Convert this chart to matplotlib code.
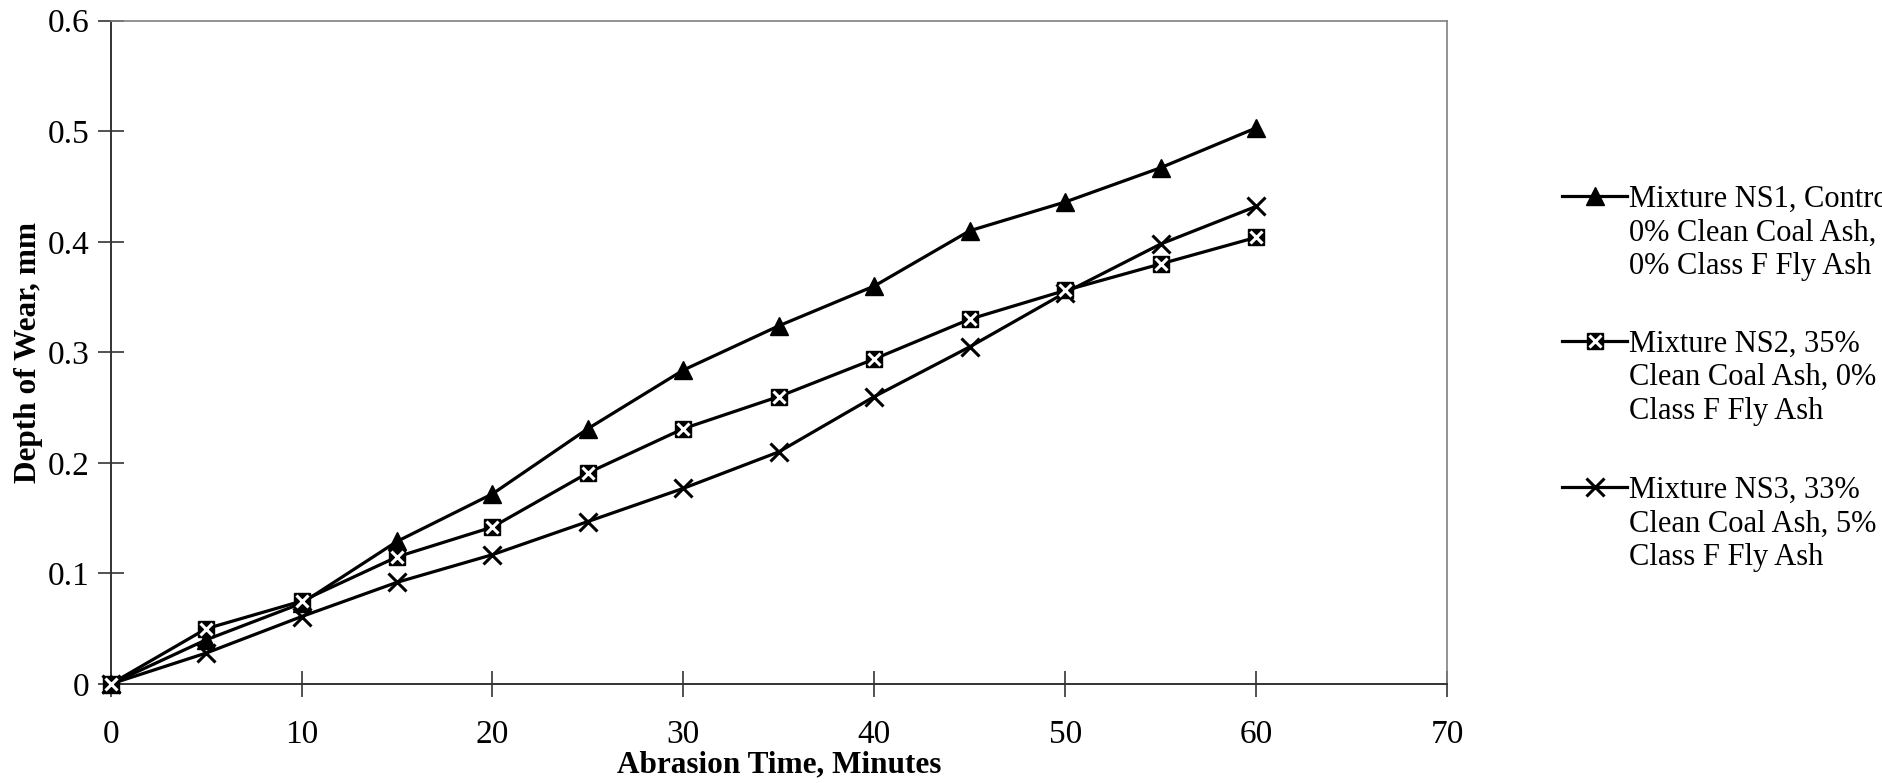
import matplotlib
matplotlib.use("Agg")
import matplotlib.pyplot as plt
from matplotlib.lines import Line2D

# Abrasion test readings, depth of wear in mm every 5 minutes
minutes = [0, 5, 10, 15, 20, 25, 30, 35, 40, 45, 50, 55, 60]
ns1_wear = [0.0, 0.040, 0.073, 0.129, 0.172, 0.231, 0.284, 0.324, 0.360, 0.410, 0.436, 0.467, 0.503]
ns2_wear = [0.0, 0.050, 0.075, 0.115, 0.142, 0.191, 0.231, 0.260, 0.294, 0.330, 0.356, 0.380, 0.404]
ns3_wear = [0.0, 0.028, 0.061, 0.092, 0.117, 0.147, 0.177, 0.210, 0.260, 0.305, 0.354, 0.398, 0.432]

labels = [
    "Mixture NS1, Control,\n0% Clean Coal Ash,\n0% Class F Fly Ash",
    "Mixture NS2, 35%\nClean Coal Ash, 0%\nClass F Fly Ash",
    "Mixture NS3, 33%\nClean Coal Ash, 5%\nClass F Fly Ash",
]
x_ticks = [0, 10, 20, 30, 40, 50, 60, 70]
y_ticks = [0, 0.1, 0.2, 0.3, 0.4, 0.5, 0.6]
y_tick_labels = ["0", "0.1", "0.2", "0.3", "0.4", "0.5", "0.6"]

plt.rcParams["font.family"] = ["Liberation Serif", "DejaVu Serif"]

fig = plt.figure(figsize=(18.82, 7.83), dpi=100)
ax = fig.add_axes([0.0588, 0.1264, 0.7101, 0.8472])

LW = 2.3
ax.plot(minutes, ns1_wear, color="black", lw=LW, marker="^", ms=13, zorder=3, clip_on=False)
ax.plot(minutes, ns2_wear, color="black", lw=LW, marker="s", ms=11, zorder=3, clip_on=False)
ax.plot(minutes, ns2_wear, color="none", marker="x", ms=9, mec="white", mew=2.2, zorder=4,
        clip_on=False)
ax.plot(minutes, ns3_wear, color="black", lw=LW, marker="x", ms=13, mew=2.2, zorder=3,
        clip_on=False)

ax.set_xlim(0, 70)
ax.set_ylim(0, 0.6)
ax.set_xticks(x_ticks)
ax.set_yticks(y_ticks)
ax.set_yticklabels(y_tick_labels)
ax.tick_params(axis="x", direction="inout", length=19, width=1.2, color="#333333",
               labelsize=24, pad=16)
ax.tick_params(axis="y", direction="inout", length=19, width=1.2, color="#333333",
               labelsize=24, pad=6)
for side in ["top", "right"]:
    ax.spines[side].set_color("#808080")
    ax.spines[side].set_linewidth(1.2)
for side in ["left", "bottom"]:
    ax.spines[side].set_color("#333333")
    ax.spines[side].set_linewidth(1.4)

ax.set_xlabel("Abrasion Time, Minutes", fontsize=22.5, fontweight="bold", labelpad=0)
ax.set_ylabel("Depth of Wear, mm", fontsize=22.5, fontweight="bold", labelpad=3)

# Hand-placed legend to the right of the plot, text runs off the figure edge
entry_y = [0.750, 0.565, 0.378]
styles = [
    dict(marker="^", ms=13),
    dict(marker="s", ms=11),
    dict(marker="x", ms=13, mew=2.2),
]
for y, lab, st in zip(entry_y, labels, styles):
    fig.add_artist(Line2D([0.830, 0.8475, 0.8645], [y, y, y], transform=fig.transFigure,
                          color="black", lw=LW, markevery=[1], **st))
    if st["marker"] == "s":
        fig.add_artist(Line2D([0.8475], [y], transform=fig.transFigure, color="none",
                              marker="x", ms=9, mec="white", mew=2.2))
    fig.text(0.8655, y + 0.0138, lab, fontsize=22, va="top", ha="left",
             linespacing=1.2, transform=fig.transFigure)

fig.savefig("out.png", dpi=100)
